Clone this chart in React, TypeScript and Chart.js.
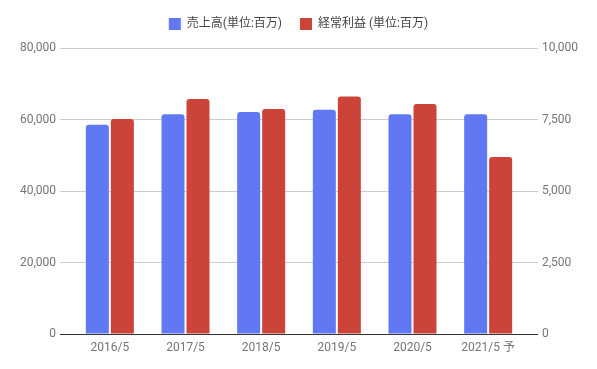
import React, { useEffect, useRef } from "react";
import { Chart, registerables } from "chart.js";

Chart.register(...registerables);

const categories = ["2016/5", "2017/5", "2018/5", "2019/5", "2020/5", "2021/5 予"];
const salesLabel = "売上高(単位:百万)";
const profitLabel = "経常利益 (単位:百万)";
const salesValues = [58500, 61500, 62100, 62700, 61500, 61500];
const profitValues = [7520, 8220, 7870, 8300, 8040, 6190];
const leftTicks = [0, 20000, 40000, 60000, 80000];
const rightTicks = [0, 2500, 5000, 7500, 10000];

const FONT = 'Roboto, "Noto Sans CJK JP", sans-serif';

const legendExtra = {
  id: "legendExtra",
  beforeLayout(chart: any) {
    const lg = chart.legend;
    if (lg && !lg.__patched) {
      const orig = lg.fit.bind(lg);
      lg.fit = function () {
        orig();
        lg.height += 8;
      };
      lg.__patched = true;
    }
  },
};

export default function App() {
  const ref = useRef<HTMLCanvasElement | null>(null);
  useEffect(() => {
    if (!ref.current) return;
    const gridColor = (ctx: any) => (ctx.tick && ctx.tick.value === 0 ? "#333333" : "#cccccc");
    const chart = new Chart(ref.current, {
      type: "bar",
      data: {
        labels: categories,
        datasets: [
          {
            label: salesLabel,
            data: salesValues,
            backgroundColor: "#6079F2",
            yAxisID: "y",
            categoryPercentage: 0.661,
            barPercentage: 0.92,
            borderRadius: { topLeft: 3, topRight: 3, bottomLeft: 0, bottomRight: 0 },
            borderSkipped: false,
          },
          {
            label: profitLabel,
            data: profitValues,
            backgroundColor: "#CC4439",
            yAxisID: "y1",
            categoryPercentage: 0.661,
            barPercentage: 0.92,
            borderRadius: { topLeft: 3, topRight: 3, bottomLeft: 0, bottomRight: 0 },
            borderSkipped: false,
          },
        ],
      },
      plugins: [legendExtra],
      options: {
        responsive: false,
        maintainAspectRatio: false,
        animation: false,
        layout: { padding: { top: 0 } },
        font: { family: FONT },
        plugins: {
          legend: {
            position: "top",
            labels: {
              boxWidth: 12,
              boxHeight: 12,
              padding: 18,
              color: "#444444",
              font: { family: FONT, size: 12 },
            },
          },
          tooltip: { enabled: false },
        },
        scales: {
          x: {
            offset: true,
            grid: { display: false, drawTicks: false },
            border: { display: false },
            ticks: { color: "#757575", font: { family: FONT, size: 12 }, padding: 7 },
            afterFit: (s: any) => { s.height = 35; },
          },
          y: {
            position: "left",
            min: 0,
            max: 80000,
            afterBuildTicks: (s: any) => { s.ticks = leftTicks.map((v) => ({ value: v })); },
            grid: { color: gridColor, tickLength: 12, drawTicks: true },
            border: { display: false },
            ticks: {
              color: "#757575",
              padding: 4,
              font: { family: FONT, size: 12 },
              callback: (v: any) => Number(v).toLocaleString("en-US"),
            },
            afterFit: (s: any) => { s.width = 72; },
          },
          y1: {
            position: "right",
            min: 0,
            max: 10000,
            afterBuildTicks: (s: any) => { s.ticks = rightTicks.map((v) => ({ value: v })); },
            grid: { color: gridColor, tickLength: 12, drawTicks: true, drawOnChartArea: false },
            border: { display: false },
            ticks: {
              color: "#757575",
              padding: 4,
              font: { family: FONT, size: 12 },
              callback: (v: any) => Number(v).toLocaleString("en-US"),
            },
            afterFit: (s: any) => { s.width = 71; },
          },
        },
      } as any,
    });
    return () => chart.destroy();
  }, []);
  return (
    <div style={{ position: "fixed", left: 0, top: 0, width: 597, height: 369, background: "#fff" }}>
      <canvas ref={ref} width={597} height={369} style={{ width: 597, height: 369 }} />
    </div>
  );
}
